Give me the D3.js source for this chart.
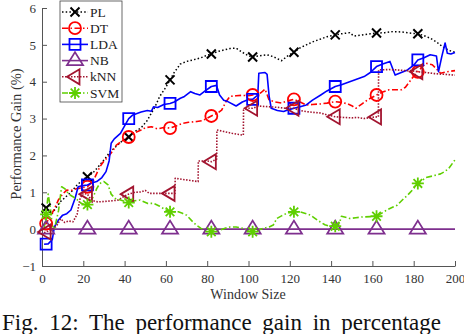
<!DOCTYPE html>
<html><head><meta charset="utf-8">
<script src="https://cdn.jsdelivr.net/npm/d3@7"></script>
<style>
html,body{margin:0;padding:0;background:#fff;}
svg{display:block;}
text{font-family:"Liberation Serif","Times New Roman",serif;}
</style></head>
<body>
<svg id="chart" width="464" height="334"></svg>
<script>
// ---------------- DATA ----------------
const xTicks = [0, 20, 40, 60, 80, 100, 120, 140, 160, 180, 200];
const yTicks = [-1, 0, 1, 2, 3, 4, 5, 6];
const markerX = [2, 22, 42, 62, 82, 102, 122, 142, 162, 182];
const seriesNames = ["PL", "DT", "LDA", "NB", "kNN", "SVM"];

const plData = [[1,0.65],[3,0.5],[5,0.43],[7,0.6],[9,0.75],[11,0.85],[14,1.0],[17,1.2],[20,1.35],[22,1.42],[25,1.55],[28,1.74],[31,1.95],[33,2.1],[36,2.25],[39,2.4],[42,2.5],[45,2.65],[48,2.75],[51,2.95],[53,3.15],[55,3.35],[57,3.6],[60,3.85],[62,4.05],[64,4.25],[67,4.48],[70,4.55],[73,4.59],[77,4.65],[80,4.72],[82,4.75],[85,4.82],[88,4.86],[91,4.9],[94,4.91],[97,4.8],[100,4.7],[102,4.67],[105,4.7],[109,4.73],[112,4.68],[116,4.57],[119,4.7],[122,4.8],[125,4.92],[128,5.0],[131,5.08],[135,5.16],[138,5.22],[142,5.27],[145,5.3],[149,5.33],[151,5.24],[155,5.27],[159,5.3],[162,5.32],[166,5.33],[170,5.36],[174,5.35],[178,5.32],[182,5.3],[185,5.25],[188,5.18],[191,5.08],[194,4.95],[197,4.85],[200,4.8]];

const dtData = [[1,0.15],[2,0.15],[4,0.35],[6,0.55],[8,0.8],[10,0.95],[12,1.06],[14,1.05],[17,1.1],[20,1.13],[22,1.15],[25,1.33],[28,1.69],[30,1.85],[32,1.96],[34,2.1],[36,2.28],[39,2.4],[42,2.5],[45,2.62],[48,2.69],[50,2.75],[53,2.78],[56,2.72],[59,2.76],[62,2.74],[65,2.8],[68,2.87],[71,2.9],[75,2.92],[78,2.95],[82,3.07],[85,3.15],[87,3.23],[89,3.45],[91,3.6],[94,3.62],[97,3.63],[100,3.62],[102,3.64],[104,3.66],[106,3.7],[108,3.8],[110,3.5],[113,3.45],[116,3.42],[119,3.48],[122,3.52],[125,3.45],[128,3.37],[131,3.38],[135,3.4],[138,3.42],[142,3.46],[145,3.44],[148,3.4],[150,3.35],[152,3.28],[155,3.4],[158,3.52],[162,3.64],[165,3.72],[168,3.78],[171,3.78],[174,3.78],[176,3.85],[178,4.0],[180,4.15],[182,4.27],[184,4.4],[186,4.5],[189,4.46],[191,4.35],[193,4.23],[196,4.27],[200,4.3]];

const ldaData = [[1,-0.41],[3,-0.4],[5,-0.28],[6,0.06],[8,0.25],[10,0.38],[12,0.42],[14,0.52],[16,0.83],[17.5,1.15],[20,1.18],[22,1.2],[24,1.25],[26.5,1.29],[29,1.4],[31,1.56],[32.5,1.85],[33.5,2.33],[35,2.45],[38,2.6],[40,2.8],[42,3.0],[44,3.1],[46,3.14],[48,3.18],[51,3.22],[53,3.2],[54,3.32],[56,3.3],[59,3.38],[62,3.41],[64,3.45],[67,3.55],[69,3.6],[72,3.73],[74,3.68],[76.5,3.64],[79,3.75],[82,3.87],[84.5,3.9],[86,3.64],[88,3.5],[90,3.46],[94,3.34],[97,3.45],[100,3.52],[102,3.52],[104.5,3.64],[105,4.23],[108,4.25],[109,4.2],[110,3.6],[111,3.28],[114,3.22],[117,3.19],[120,3.25],[122,3.28],[125,3.32],[128,3.37],[131,3.5],[135,3.64],[138,3.75],[142,3.87],[145,3.92],[149,4.0],[152,4.06],[156,4.14],[159,4.25],[162,4.41],[165,4.48],[168.5,4.55],[171,4.18],[174,4.25],[177,4.32],[180,4.45],[182,4.59],[185,4.65],[188,4.73],[191,4.7],[192,4.27],[193.6,4.68],[195.2,5.05],[196.3,4.77],[198,4.75],[200,4.79]];

const nbData = [[1,0],[200,0]];

const knnData = [[1,-0.1],[3,-0.05],[5,0.0],[7,0.08],[9,0.28],[11,0.18],[13,0.22],[15,0.2],[17,0.4],[18.5,0.85],[20,0.97],[22,0.95],[24,0.78],[27,0.74],[30,0.75],[34,0.77],[37,0.79],[40,0.9],[42,0.95],[45,1.0],[48,1.01],[50,1.05],[52,0.97],[56,0.97],[60,0.97],[62,0.97],[64.4,0.97],[64.5,1.38],[68,1.35],[72,1.32],[75.6,1.29],[75.7,1.85],[80,1.85],[82,1.83],[84.6,1.9],[84.7,2.69],[88,2.65],[92,2.6],[97.5,2.55],[97.6,3.23],[100,3.28],[102,3.28],[105,3.34],[110,3.32],[115,3.3],[118,3.28],[122,3.28],[125,3.22],[128,3.19],[131,3.17],[135,3.15],[138,3.1],[142,3.05],[146,3.03],[150,3.02],[153,3.03],[156,3.0],[159,3.03],[162.9,3.05],[163,4.32],[168,4.33],[172,4.32],[176,4.3],[179,4.3],[182,4.27],[186,4.25],[190,4.22],[195,4.2],[200,4.18]];

const svmData = [[1,0.02],[2,0.4],[3,0.95],[4,0.6],[5,0.1],[6,0.0],[8,0.5],[9.5,1.15],[11,1.1],[13,0.95],[15,0.88],[17,0.8],[19,0.7],[21.5,0.65],[23,0.7],[25,0.9],[26.5,1.1],[28,1.24],[30,1.29],[32,1.2],[33.5,0.95],[35.5,0.83],[38,0.79],[42,0.72],[45,0.77],[47.5,0.79],[51,0.7],[54,0.7],[57,0.62],[60,0.52],[62,0.47],[66,0.47],[68,0.43],[70,0.38],[73,0.2],[75,0.1],[77,0.02],[79,-0.03],[82,-0.07],[86,-0.03],[89,0.03],[91,0.06],[94,0.06],[97.5,0.02],[100,-0.05],[102,-0.07],[105,-0.02],[107,0.02],[110,0.06],[112,0.11],[113.7,0.29],[116,0.36],[118.5,0.43],[122,0.47],[125,0.47],[128,0.42],[130,0.38],[132,0.3],[134.6,0.2],[137,0.12],[139,0.08],[142,0.08],[144,0.15],[145,0.35],[147,0.32],[149,0.29],[152,0.31],[155,0.33],[159,0.34],[162,0.35],[165,0.45],[167,0.52],[170,0.6],[172,0.65],[175,0.82],[177,0.92],[180,1.1],[182,1.24],[184,1.32],[186,1.4],[189,1.44],[191,1.47],[193,1.5],[195,1.56],[197,1.65],[200,1.88]];

// ---------------- STYLES ----------------
const styles = {
  PL:  {data: plData,  color: "#000000", dash: "1.5,2.2",  width: 1.5, marker: "x"},
  DT:  {data: dtData,  color: "#ff0000", dash: "6,2.5,1.5,2.5", width: 1.6, marker: "o"},
  LDA: {data: ldaData, color: "#0000ff", dash: null,       width: 1.6, marker: "s"},
  NB:  {data: nbData,  color: "#7e2f8e", dash: null,       width: 1.6, marker: "^"},
  kNN: {data: knnData, color: "#a2142f", dash: "1.5,1.5",  width: 1.6, marker: "<"},
  SVM: {data: svmData, color: "#5fcf00", dash: "6,2.5,1.5,2.5", width: 1.6, marker: "*"}
};
const drawOrder = ["PL","DT","LDA","NB","kNN","SVM"];

const svg = d3.select("#chart");
const m = {left: 42, right: 455, top: 8, bottom: 266};
const x = d3.scaleLinear().domain([0, 200]).range([m.left, m.right]);
const y = d3.scaleLinear().domain([-1, 6]).range([m.bottom, m.top]);
const axisColor = "#555";

// axes
const gx = svg.append("g").attr("transform", `translate(0,${m.bottom})`)
  .call(d3.axisBottom(x).tickValues(xTicks).tickFormat(d3.format("d")).tickSizeInner(-5).tickSizeOuter(0).tickPadding(8));
const gy = svg.append("g").attr("transform", `translate(${m.left},0)`)
  .call(d3.axisLeft(y).tickValues(yTicks).tickFormat(d3.format("d")).tickSizeInner(-5).tickSizeOuter(0).tickPadding(9));
[gx, gy].forEach(g => {
  g.select(".domain").attr("stroke", axisColor).attr("stroke-width", 1);
  g.selectAll(".tick line").attr("stroke", axisColor);
  g.selectAll(".tick text").attr("fill", "#333").style("font-size", "13px")
    .style("font-family", '"Liberation Serif", serif');
});
gy.selectAll(".tick text").attr("x", -6);

svg.append("text").attr("x", 248).attr("y", 299).attr("text-anchor", "middle")
  .attr("fill", "#333").style("font-size", "14px").text("Window Size");
svg.append("text").attr("transform", "translate(21,134) rotate(-90)").attr("text-anchor", "middle")
  .attr("fill", "#333").style("font-size", "14.5px").text("Performance Gain (%)");

// marker shapes
function markerPath(type) {
  switch (type) {
    case "x": return "M-4.5,-4.5L4.5,4.5M-4.5,4.5L4.5,-4.5";
    case "o": return d3.symbol().type(d3.symbolCircle).size(Math.PI * 36)();
    case "s": return "M-5.5,-5.5H5.5V5.5H-5.5Z";
    case "^": return "M0,-8.5L8,4.5L-8,4.5Z";
    case "<": return "M-8,0L4.5,-7.5L4.5,7.5Z";
    case "*": return "M-6,0H6M0,-6V6M-4.3,-4.3L4.3,4.3M-4.3,4.3L4.3,-4.3";
  }
}
function valueAt(data, xv) {
  for (let i = 1; i < data.length; i++) {
    if (data[i][0] >= xv) {
      const [x0, y0] = data[i - 1], [x1, y1] = data[i];
      return y0 + (y1 - y0) * (xv - x0) / (x1 - x0);
    }
  }
  return data[data.length - 1][1];
}

const line = d3.line().x(d => x(d[0])).y(d => y(d[1]));
const plot = svg.append("g");
drawOrder.forEach(name => {
  const s = styles[name];
  plot.append("path").datum(s.data).attr("d", line).attr("fill", "none")
    .attr("stroke", s.color).attr("stroke-width", s.width)
    .attr("stroke-dasharray", s.dash).attr("stroke-linejoin", "round");
});
drawOrder.forEach(name => {
  const s = styles[name];
  plot.selectAll(null).data(markerX).enter().append("path")
    .attr("d", markerPath(s.marker))
    .attr("transform", d => `translate(${x(d)},${y(valueAt(s.data, d))})`)
    .attr("fill", "none").attr("stroke", s.color)
    .attr("stroke-width", s.marker === "x" ? 2 : 1.8);
});

// legend
const lg = svg.append("g").attr("transform", "translate(60,1)");
lg.append("rect").attr("width", 62).attr("height", 101).attr("fill", "#fff")
  .attr("stroke", "#444").attr("stroke-width", 0.8);
seriesNames.forEach((name, i) => {
  const s = styles[name];
  const yy = 11 + i * 16.2;
  lg.append("line").attr("x1", 2).attr("x2", 28).attr("y1", yy).attr("y2", yy)
    .attr("stroke", s.color).attr("stroke-width", s.width).attr("stroke-dasharray", s.dash);
  lg.append("path").attr("d", markerPath(s.marker)).attr("transform", `translate(15,${yy})`)
    .attr("fill", "none").attr("stroke", s.color).attr("stroke-width", s.marker === "x" ? 2 : 1.8);
  lg.append("text").attr("x", 30).attr("y", yy + 4.5).attr("fill", "#222")
    .style("font-size", "13.5px").text(name);
});

// caption (cut off at the bottom in the reference)
svg.append("text").attr("x", 2).attr("y", 330).attr("fill", "#111")
  .style("font-size", "23px").style("word-spacing", "5px")
  .text("Fig. 12: The performance gain in percentage");
</script>
</body></html>
